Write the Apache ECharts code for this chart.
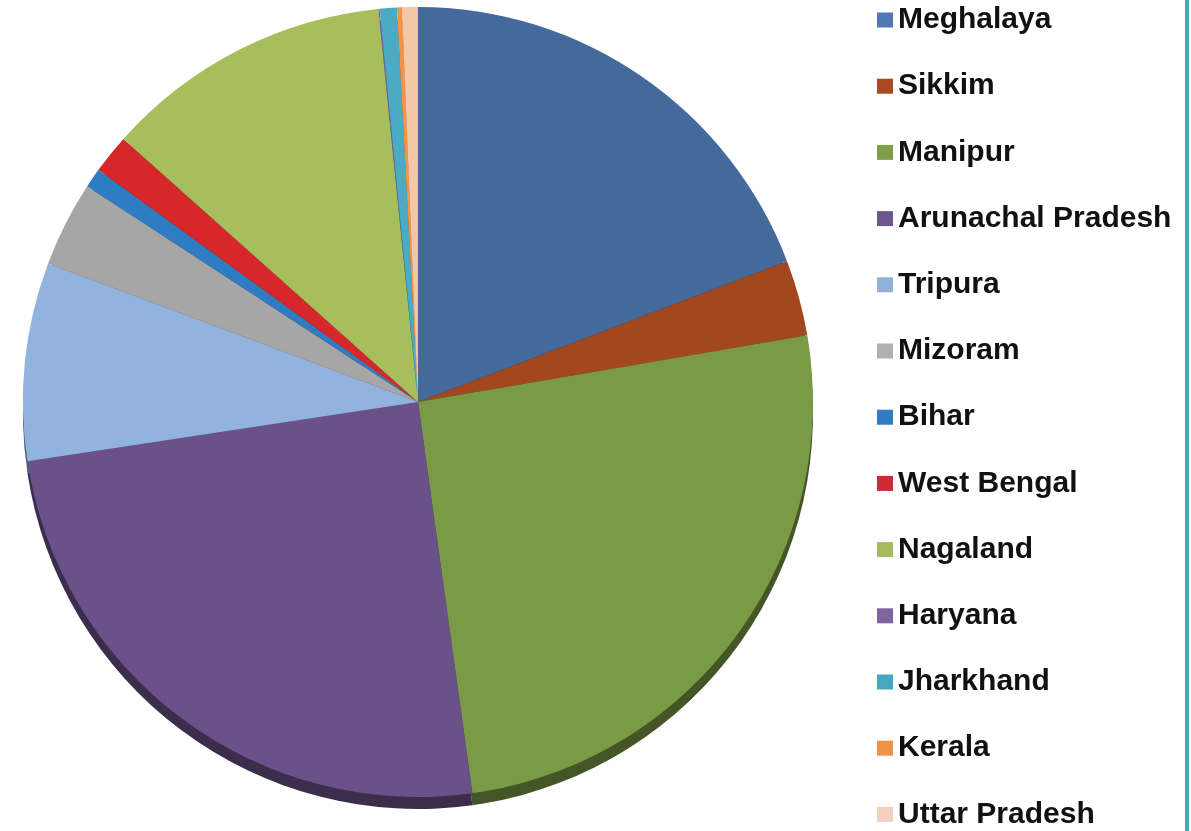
<!DOCTYPE html>
<html>
<head>
<meta charset="utf-8">
<script src="https://cdn.jsdelivr.net/npm/echarts@6/dist/echarts.min.js"></script>
<style>
html,body{margin:0;padding:0;background:#fff;}
#chart{width:1191px;height:831px;}
</style>
</head>
<body>
<div id="chart"></div>
<script>
// Data (percent share)
const states = ['Meghalaya','Sikkim','Manipur','Arunachal Pradesh','Tripura','Mizoram','Bihar','West Bengal','Nagaland','Haryana','Jharkhand','Kerala','Uttar Pradesh'];
const shares = [19.2, 3.1, 25.5, 24.8, 8.1, 3.5, 0.8, 1.6, 11.8, 0.05, 0.7, 0.2, 0.65];

// Palette
const sliceColors = ['#44699b','#a3471e','#7b9a45','#6b5189','#93b3df','#a6a6a6','#2e7dc2','#d6282c','#a6bf5c','#7c61a3','#4aabc4','#f29447','#f4c7a6'];
const legendColors = ['#4f79b5','#a84a24','#7f9f4a','#6c5690','#92b1da','#b0b0b0','#2f7cc0','#cc2b33','#a4bb62','#7f64a0','#45a8bf','#ee9246','#f3d2bd'];

function darken(hex, f) {
  const n = parseInt(hex.slice(1), 16);
  const r = Math.round(((n >> 16) & 255) * f);
  const g = Math.round(((n >> 8) & 255) * f);
  const b = Math.round((n & 255) * f);
  return 'rgb(' + r + ',' + g + ',' + b + ')';
}

const mainData = states.map((s, i) => ({ name: s, value: shares[i], itemStyle: { color: sliceColors[i] } }));
const rimData = states.map((s, i) => ({ name: s, value: shares[i], itemStyle: { color: darken(sliceColors[i], 0.55) } }));

const chart = echarts.init(document.getElementById('chart'), null, { renderer: 'canvas' });
chart.setOption({
  animation: false,
  backgroundColor: '#ffffff',
  legend: {
    orient: 'vertical',
    left: 877,
    top: 5,
    padding: 0,
    itemWidth: 16,
    itemHeight: 15,
    itemGap: 36.2,
    icon: 'rect',
    selectedMode: false,
    data: states.map((s, i) => ({ name: s, itemStyle: { color: legendColors[i] } })),
    textStyle: {
      fontFamily: '"Liberation Sans", Arial, sans-serif',
      fontWeight: 'bold',
      fontSize: 30,
      lineHeight: 30,
      color: '#111111'
    }
  },
  graphic: [
    { type: 'rect', left: 1185, top: 0, shape: { width: 4, height: 831 }, style: { fill: '#3eaebc' }, silent: true }
  ],
  series: [
    {
      type: 'pie',
      name: 'main',
      z: 3,
      center: [418, 402],
      radius: [0, 395],
      startAngle: 90,
      clockwise: true,
      label: { show: false },
      labelLine: { show: false },
      itemStyle: { borderWidth: 0 },
      emphasis: { disabled: true },
      data: mainData
    },
    {
      type: 'pie',
      name: 'rim',
      z: 1,
      silent: true,
      center: [418, 414],
      radius: [0, 395],
      startAngle: 90,
      clockwise: true,
      label: { show: false },
      labelLine: { show: false },
      itemStyle: { borderWidth: 0 },
      emphasis: { disabled: true },
      data: rimData
    }
  ]
});
</script>
</body>
</html>
